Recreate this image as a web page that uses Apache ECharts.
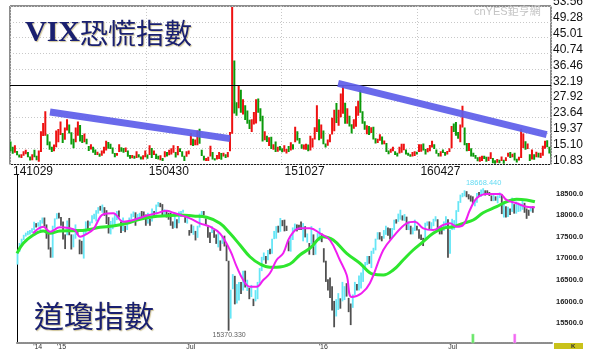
<!DOCTYPE html>
<html>
<head>
<meta charset="utf-8">
<script src="https://cdn.jsdelivr.net/npm/echarts@6/dist/echarts.min.js"></script>
<style>
html,body{margin:0;padding:0;background:#fff;}
#chart{width:600px;height:354px;}
</style>
</head>
<body>
<div id="chart"></div>
<script>
// ---------- VIX (top panel): 2-trading-day buckets starting 2014-10-29 ----------
var vixDateLabels = ['141029', '150430', '151027', '160427'];
var vixTicks = [10.83, 15.10, 19.37, 23.64, 27.92, 32.19, 36.46, 40.74, 45.01, 49.28, 53.56];
var vixLow = [
14.4,13.7,14.0,13.3,12.7,12.6,13.2,13.6,12.8,11.9,
12.0,12.8,12.0,11.6,14.2,18.5,18.6,16.0,14.8,14.2,
14.4,15.5,16.8,18.8,16.6,17.5,20.0,19.2,16.2,15.2,
16.8,18.6,17.0,16.6,16.8,16.3,14.5,14.9,14.0,13.4,
13.4,12.9,13.2,13.8,14.6,15.1,15.0,13.7,12.8,13.2,
14.2,14.3,14.0,14.2,12.9,12.4,12.5,12.4,12.6,12.7,
12.2,12.2,12.8,12.4,13.4,12.6,13.4,12.3,12.2,12.0,
11.8,12.8,13.0,13.3,13.5,14.0,12.7,13.3,14.2,12.9,
11.8,12.9,13.6,16.0,15.8,16.0,16.0,16.4,13.1,11.9,
11.8,11.8,13.0,12.2,11.9,12.2,12.3,12.1,13.0,12.6,
12.8,14.4,19.1,24.6,24.0,26.0,24.8,24.3,22.8,21.8,
20.4,19.6,21.6,21.9,24.8,22.5,17.0,17.4,16.9,15.8,
15.0,14.8,14.2,14.3,14.6,14.1,14.3,13.8,14.2,14.6,
14.9,16.8,17.3,16.4,15.1,14.9,14.8,14.4,14.6,15.4,
17.6,19.6,17.4,17.8,16.3,15.4,15.9,16.8,18.9,19.8,
22.0,21.3,23.6,24.5,21.8,21.8,21.1,19.2,20.5,21.0,
24.0,24.8,21.8,20.2,19.0,18.8,19.3,17.6,16.5,16.6,
17.2,16.2,16.3,14.2,13.6,14.0,14.4,13.4,13.0,13.8,
14.0,14.7,13.5,13.2,12.9,13.0,13.1,13.5,14.2,14.3,
14.6,13.5,14.1,14.4,15.4,15.0,13.7,13.0,13.0,13.9,
13.2,13.5,14.2,15.2,19.6,18.6,17.8,16.8,20.8,16.0,
14.4,14.5,13.0,12.9,12.4,11.7,11.6,11.8,12.3,11.6,
11.8,12.3,11.2,11.0,11.3,11.2,11.8,11.0,11.8,12.9,
12.6,12.8,11.9,11.4,11.9,12.6,15.3,14.8,15.0,11.8,
12.2,12.1,12.8,12.7,12.6,13.2,15.1,15.5,13.8,12.8];
var vixHigh = [
17.0,15.6,16.0,14.5,13.5,13.6,14.4,14.8,14.2,13.0,
13.6,14.8,13.2,14.6,19.8,22.0,25.2,19.0,17.0,15.6,
16.2,20.0,20.4,22.4,19.3,20.8,23.0,21.6,19.5,17.8,
20.8,22.4,21.5,18.8,19.2,17.8,15.8,16.3,15.6,14.9,
14.3,13.8,14.6,15.6,17.2,16.9,16.4,15.4,13.9,13.9,
16.3,15.5,15.3,15.4,14.6,13.4,13.4,13.2,14.4,13.6,
13.0,13.3,14.6,13.5,16.0,15.3,14.6,13.7,13.2,13.3,
12.6,14.4,14.2,14.8,15.2,16.0,14.2,15.8,15.2,14.4,
13.2,14.4,14.6,19.3,17.8,17.6,20.0,20.5,14.8,13.2,
12.6,12.9,15.9,14.2,12.5,13.4,14.2,13.9,14.0,13.6,
14.2,19.6,53.3,38.9,27.6,32.0,31.0,28.4,26.8,25.4,
22.9,23.0,25.0,28.4,28.6,26.0,24.0,19.8,18.6,18.2,
18.3,16.3,17.0,15.6,15.8,15.2,16.0,15.0,15.8,16.8,
16.3,21.0,19.8,18.0,16.3,16.2,16.4,16.2,18.6,17.9,
20.9,26.8,23.0,21.6,20.0,16.5,17.6,19.0,23.4,25.6,
27.4,25.6,30.0,32.1,27.5,26.0,24.0,21.7,23.0,26.5,
28.0,30.9,25.2,22.5,21.4,21.2,20.9,21.0,17.9,17.8,
19.0,18.4,17.3,16.6,14.6,15.1,15.6,14.4,14.0,15.6,
16.4,16.4,14.9,14.0,13.6,14.2,14.4,14.3,16.3,16.3,
16.5,15.0,15.3,16.1,17.2,16.3,14.9,13.9,14.4,14.9,
14.2,14.5,15.2,21.2,21.9,22.3,19.6,21.6,26.7,20.8,
16.6,16.6,15.2,14.0,13.4,12.8,12.9,13.2,13.2,12.9,
12.9,14.1,12.6,12.0,12.3,12.1,13.0,12.1,12.8,14.0,
14.2,13.7,14.0,12.4,12.9,20.5,19.2,17.1,16.5,13.6,
14.9,13.6,14.3,14.0,14.0,15.9,17.2,17.4,15.6,13.9];
var vixUp = [
0,0,1,0,0,1,1,1,0,0, 1,0,0,1,1,1,1,0,0,0, 1,1,1,1,0,1,1,0,0,0, 1,1,0,0,1,0,0,1,0,0,
1,0,1,1,1,0,0,0,0,1, 1,0,0,1,0,0,1,0,1,0, 0,1,1,0,1,0,1,0,0,1, 0,1,0,1,1,1,0,1,0,0,
0,1,1,1,0,1,1,0,0,0, 1,1,1,0,0,1,1,0,1,0, 1,1,1,0,0,1,0,1,0,0, 0,1,1,1,0,0,0,1,0,1,
0,1,0,1,0,0,1,1,0,1, 0,1,0,0,0,1,1,0,1,1, 1,1,0,1,0,0,1,1,1,1, 0,1,1,1,0,1,0,0,1,1,
1,0,0,0,1,0,1,0,0,1, 1,0,1,0,0,1,1,0,0,1, 1,1,0,0,0,1,1,0,1,1, 0,0,1,1,1,0,0,0,1,0,
0,1,1,1,0,0,0,1,1,0, 0,1,0,0,0,0,1,1,0,0, 1,1,0,0,1,0,1,0,1,1, 0,1,0,0,1,1,1,0,1,0,
1,0,1,0,1,1,1,0,0,0];
// trend bands drawn on the VIX chart: [day, value]
var vixTrend1 = [[36.8, 25.0], [202.6, 17.8]];
var vixTrend2 = [[302, 32.7], [494, 18.9]];
var vixRefLevel = 32.19;

// ---------- Dow Jones (bottom panel), same 2-day buckets ----------
var djiDateLabels = ["'14", "'15", 'Jul', "'16", 'Jul'];
var djiDateDays = [20, 43, 168, 296, 421];
var djiTicks = [15500, 16000, 16500, 17000, 17500, 18000, 18500];
var djiLow = [
16900,17200,17330,17470,17550,17580,17600,17640,17700,17760,
17780,17700,17850,17780,17500,17250,17060,17060,17750,17950,
17970,17800,17480,17260,17580,17580,17250,17300,17500,17590,
17140,17140,17040,17590,17700,17800,17860,17950,17900,18080,
18150,18100,18030,17840,17620,17600,17720,17820,17930,17990,
17630,17680,17650,17700,17850,17950,18000,17800,17930,17980,
18000,17980,17800,17850,17800,17900,18020,18060,18240,18230,
18010,18030,17990,17940,17800,17730,17750,17740,17860,18000,
18100,17870,17850,17570,17630,17590,17460,17520,17760,18000,
18040,17820,17520,17400,17630,17520,17380,17300,17220,17380,
17320,16980,15370,15650,16330,15980,16000,16070,16220,16300,
16370,16290,16100,16150,15940,16050,16100,16470,16750,17000,
16920,17000,17140,17150,17490,17500,17640,17660,17790,17670,
17680,17210,17200,17470,17700,17670,17700,17700,17440,17530,
17410,17130,17370,17120,17130,17500,17450,17420,16950,16500,
16300,16130,15840,15450,15700,15850,15880,16050,16080,16160,
15800,15500,15900,16200,16300,16300,16350,16500,16780,16890,
16920,16820,17150,17230,17480,17480,17440,17500,17590,17570,
17480,17510,17700,17850,17890,17940,17920,17910,17700,17700,
17600,17600,17680,17690,17500,17470,17330,17480,17800,17700,
17700,17790,17900,17700,17600,17600,17680,17760,17060,17150,
17700,17710,17820,18120,18330,18460,18480,18460,18410,18360,
18310,18250,18330,18490,18470,18540,18500,18530,18490,18370,
18370,18380,18320,18440,18070,17990,17990,18000,18050,18120,
18080,18080,18120,18130,18170,18100,17960,18030,18130,18100];
var djiHigh = [
17200,17400,17500,17590,17640,17680,17700,17740,17890,17860,
17880,17930,17990,17990,17830,17620,17300,17800,17970,18090,
18100,18000,17900,17600,17920,17980,17600,17600,17830,17720,
17480,17450,17680,17900,17920,17900,18040,18080,18160,18230,
18260,18290,18230,18160,18000,17910,17990,18090,18140,18150,
17900,17990,17800,17910,17990,18080,18130,18110,18070,18100,
18140,18130,18060,18100,17960,18200,18140,18290,18350,18330,
18300,18180,18140,18100,18100,17900,18060,17950,18130,18140,
18170,18000,17980,17700,17830,17800,17680,17800,18080,18140,
18140,17970,17780,17650,17790,17700,17600,17630,17460,17560,
17570,17370,16990,16320,16680,16640,16450,16500,16500,16760,
16760,16550,16360,16430,16110,16310,16500,16820,17080,17180,
17100,17240,17270,17500,17680,17790,17800,17980,17930,17940,
17800,17460,17550,17760,17850,17830,17820,17900,17860,17790,
17620,17400,17790,17600,17450,17630,17750,17620,17280,16990,
16560,16600,16400,16060,16100,16240,16120,16500,16400,16470,
16130,16000,16210,16500,16450,16650,16720,16870,16960,17100,
17100,17220,17290,17500,17650,17650,17560,17700,17800,17760,
17740,17750,17940,17950,18080,18170,18040,18070,18010,17900,
17800,17760,17940,17800,17720,17600,17520,17870,17900,17900,
17880,17960,18020,17950,17780,17760,17900,18020,17950,17710,
17960,17930,18160,18370,18520,18560,18620,18600,18530,18500,
18480,18380,18560,18580,18640,18668,18620,18620,18580,18500,
18520,18480,18500,18570,18530,18360,18250,18240,18200,18450,
18300,18360,18330,18310,18400,18330,18200,18170,18250,18250];
var djiUp = [
1,1,1,1,1,1,1,1,1,0, 1,1,1,0,0,0,0,1,1,1, 0,0,0,0,1,0,0,1,1,0, 0,0,1,1,0,1,1,1,1,1,
0,1,0,0,0,1,1,1,1,0, 0,1,0,1,1,1,1,0,1,1, 0,0,0,1,0,1,0,1,1,0, 0,1,0,0,0,0,1,0,1,1,
1,0,1,0,0,1,0,1,1,1, 0,0,0,0,1,0,0,1,0,1, 0,0,0,1,1,0,1,1,0,1, 0,1,0,1,0,1,1,1,1,1,
0,1,0,1,1,1,0,1,0,0, 0,0,1,1,1,0,0,0,1,0, 1,0,1,0,1,1,1,0,0,0, 0,0,0,0,1,1,0,1,1,0,
0,0,1,1,0,1,1,1,1,1, 0,1,1,1,1,0,0,1,1,0, 0,1,1,0,1,1,0,1,0,1, 0,1,1,0,0,0,0,1,1,0,
1,1,1,0,0,0,1,1,0,1, 1,1,1,1,1,1,1,0,0,0, 0,1,1,0,1,1,0,0,0,0, 1,0,1,1,0,1,0,1,0,1,
0,1,1,1,1,0,0,0,1,0];
// moving averages: [day, value]
var djiMaShort = [[15.5,17625],[25.4,17778],[31.9,17662],[41.5,17764],[51.2,17741],[56,17701],[60.9,17546],[65.7,17586],[73.7,17718],[83.4,18065],[93,18088],[102.7,17893],[112.4,17933],[122,18009],[135,18088],[144.6,18148],[151,18102],[157.5,18049],[167.1,17972],[176.8,17856],[186.5,17778],[196.1,17625],[205.8,17238],[212.3,16852],[218.6,16544],[225.1,16389],[231.6,16389],[238,16544],[244.4,16699],[250.9,17007],[257.3,17162],[263.8,17546],[273.4,17741],[283.1,17741],[292.8,17625],[302.4,17470],[312,17007],[318.6,16660],[323.4,16150],[333,16236],[341,16468],[354,17238],[363.6,17546],[376.5,17856],[384.5,17894],[392.6,17741],[402.2,17701],[411.9,17817],[418.4,17856],[424.8,17778],[431.2,17817],[437.7,18164],[444.2,18435],[453.8,18535],[466.7,18535],[473.1,18396],[482.8,18319],[492.5,18241],[500.5,18227]];
var djiMaLong = [[0,17162],[6.1,17393],[15.7,17586],[25.4,17678],[31.9,17625],[41.5,17678],[54.4,17685],[67.3,17701],[80.2,17764],[93,17794],[106,17856],[118.8,17949],[131.7,18009],[144.6,18032],[157.5,18049],[170.3,18025],[183.3,17995],[196.1,17856],[205.8,17625],[215.5,17354],[225.1,17083],[234.8,16914],[244.4,16838],[250.9,16838],[263.8,16914],[273.4,17123],[283.1,17278],[296,17546],[305.6,17470],[318.6,17162],[331.4,16931],[344.3,16676],[354,16660],[363.6,16775],[373.2,17007],[382.9,17238],[392.6,17431],[402.2,17625],[411.9,17741],[421.5,17778],[431.2,17856],[440.9,17933],[450.5,18102],[463.5,18241],[473.1,18356],[482.8,18412],[492.5,18396],[500.5,18356]];
var djiHighMark = [451, 18668.44];
var djiLowMark = [205, 15370.33];
var signalDays = [440.6, 481];
var signalLevel = 15190;

// ---------- build ----------
var vixData = vixLow.map(function (lo, i) { return [i * 2 + 0.5, lo, vixHigh[i], vixUp[i]]; });
var djiData = djiLow.map(function (lo, i) { return [i * 2 + 0.5, lo, djiHigh[i], djiUp[i]]; });

function barRender(upColor, downColor, w) {
  return function (params, api) {
    var x = api.value(0);
    var top = api.coord([x, api.value(2)]);
    var bot = api.coord([x, api.value(1)]);
    return {
      type: 'rect',
      shape: { x: top[0] - w / 2, y: top[1], width: w, height: Math.max(1, bot[1] - top[1]) },
      style: { fill: api.value(3) ? upColor : downColor }
    };
  };
}

var chart = echarts.init(document.getElementById('chart'), null, { renderer: 'canvas' });
var navyShadow = { textShadowColor: 'rgba(170,150,70,0.55)', textShadowBlur: 1, textShadowOffsetX: 1, textShadowOffsetY: 1 };
var option = {
  animation: false,
  backgroundColor: '#ffffff',
  title: [
    { text: '{a|VIX}{b|恐慌指數}', left: 20, top: 13,
      textStyle: { rich: {
        a: Object.assign({ fontFamily: 'Liberation Serif', fontWeight: 'bold', fontSize: 30, color: '#1a2070' }, navyShadow),
        b: Object.assign({ fontFamily: 'Noto Sans CJK TC', fontWeight: 'normal', fontSize: 28, color: '#1a2070' }, navyShadow)
      } } },
    { text: '道瓊指數', left: 29, top: 296,
      textStyle: Object.assign({ fontFamily: 'Noto Sans CJK TC', fontWeight: 'normal', fontSize: 30, color: '#1a2070' }, navyShadow) }
  ],
  graphic: [
    { type: 'text', left: 474, top: 6, style: { text: 'cnYES鉅亨網', fill: '#c4c4c4', font: '11px "Liberation Sans", "Noto Sans CJK TC"' } },
    { type: 'rect', shape: { x: 554, y: 343, width: 29, height: 6 }, style: { fill: '#c9c21a' } },
    { type: 'text', left: 571, top: 343, style: { text: 'K', fill: '#333', font: 'bold 6px "Liberation Sans"' } }
  ],
  grid: [
    { left: 10, right: 49, top: 6, bottom: 189.5, show: true, borderColor: '#1a1a1a', borderWidth: 1, backgroundColor: 'transparent',
      containLabel: false, outerBoundsMode: 'none' },
    { left: 17, right: 47, top: 175, bottom: 11, containLabel: false, outerBoundsMode: 'none' }
  ],
  xAxis: [
    { type: 'value', gridIndex: 0, min: 0, max: 498, interval: 125,
      axisLine: { show: false }, axisTick: { show: false },
      splitLine: { show: true, lineStyle: { color: '#c8c8c8', type: [1, 2] } },
      axisLabel: { align: 'left', margin: 1, padding: [0, 0, 0, 3], color: '#111', fontSize: 12, fontFamily: 'Liberation Sans',
        formatter: function (v) { var k = Math.round(v / 125); return Math.abs(v - k * 125) < 1 && vixDateLabels[k] ? vixDateLabels[k] : ''; } } },
    { type: 'value', gridIndex: 1, min: 0, max: 518,
      axisLine: { show: true, lineStyle: { color: '#8c8c8c', width: 2, type: [1, 1] } },
      axisTick: { show: false }, splitLine: { show: false },
      axisLabel: { customValues: djiDateDays, margin: 1, color: '#333', fontSize: 7, fontFamily: 'Liberation Sans',
        formatter: function (v) { var i = djiDateDays.indexOf(v); return i >= 0 ? djiDateLabels[i] : ''; } } }
  ],
  yAxis: [
    { type: 'value', gridIndex: 0, position: 'right', min: 10.83, max: 53.56, interval: 4.273,
      axisLine: { show: false }, axisTick: { show: false },
      splitLine: { show: true, lineStyle: { color: '#c8c8c8', type: [1, 2] } },
      axisLabel: { margin: 2, color: '#111', fontSize: 12, fontFamily: 'Liberation Sans', verticalAlign: 'bottom', lineHeight: 8,
        formatter: function (v) { var best = '', bd = 1; vixTicks.forEach(function (t) { var d = Math.abs(t - v); if (d < bd) { bd = d; best = t.toFixed(2); } }); return best; } } },
    { type: 'value', gridIndex: 1, position: 'right', min: 15085.6, max: 18974.5,
      axisLine: { show: true, lineStyle: { color: '#000', width: 1 } },
      axisTick: { show: false }, splitLine: { show: false },
      axisLabel: { customValues: djiTicks, margin: 3, color: '#222', fontSize: 7.5, fontWeight: 'bold', fontFamily: 'Liberation Sans',
        verticalAlign: 'bottom', lineHeight: 4,
        formatter: function (v) { return v.toFixed(1); } } }
  ],
  series: [
    { type: 'custom', name: 'VIX', xAxisIndex: 0, yAxisIndex: 0, clip: true,
      renderItem: barRender('#ee1111', '#0b9a0b', 2),
      encode: { x: 0, y: [1, 2] }, data: vixData, z: 3 },
    { type: 'line', xAxisIndex: 0, yAxisIndex: 0, data: vixTrend1, symbol: 'none', silent: true,
      lineStyle: { color: '#5d5de9', width: 7, opacity: 0.92, cap: 'butt' }, z: 5,
      markLine: { silent: true, symbol: 'none', label: { show: false }, animation: false,
        lineStyle: { color: '#000', type: 'solid', width: 1 }, data: [{ yAxis: vixRefLevel }] } },
    { type: 'line', xAxisIndex: 0, yAxisIndex: 0, data: vixTrend2, symbol: 'none', silent: true,
      lineStyle: { color: '#5d5de9', width: 7, opacity: 0.92, cap: 'butt' }, z: 5 },
    { type: 'custom', name: 'DJI', xAxisIndex: 1, yAxisIndex: 1, clip: false,
      renderItem: barRender('#66e6f6', '#505050', 1.8),
      encode: { x: 0, y: [1, 2] }, data: djiData, z: 3 },
    { type: 'line', xAxisIndex: 1, yAxisIndex: 1, data: djiMaLong, symbol: 'none', smooth: 0.4,
      lineStyle: { color: '#2ee62e', width: 3 }, z: 4 },
    { type: 'line', xAxisIndex: 1, yAxisIndex: 1, data: djiMaShort, symbol: 'none', smooth: 0.4,
      lineStyle: { color: '#f01ef0', width: 2 }, z: 5 },
    { type: 'scatter', xAxisIndex: 1, yAxisIndex: 1, symbolSize: 0, z: 6,
      data: [
        { value: djiHighMark, label: { show: true, position: 'top', distance: 1, color: '#3cd2f0', fontSize: 7.5, fontFamily: 'Liberation Sans',
          formatter: function (p) { return p.value[1].toFixed(3); } } },
        { value: djiLowMark, label: { show: true, position: 'bottom', distance: 1, color: '#333', fontSize: 7, fontFamily: 'Liberation Sans',
          formatter: function (p) { return p.value[1].toFixed(3); } } }
      ] },
    { type: 'scatter', xAxisIndex: 1, yAxisIndex: 1, symbol: 'rect', symbolSize: [2.5, 9], z: 6,
      data: [
        { value: [signalDays[0], signalLevel], itemStyle: { color: '#3ee03e', borderColor: '#b8f5b8', borderWidth: 0.5 } },
        { value: [signalDays[1], signalLevel], itemStyle: { color: '#f040f0', borderColor: '#f8b8f8', borderWidth: 0.5 } }
      ] }
  ]
};
chart.setOption(option);
</script>
</body>
</html>
